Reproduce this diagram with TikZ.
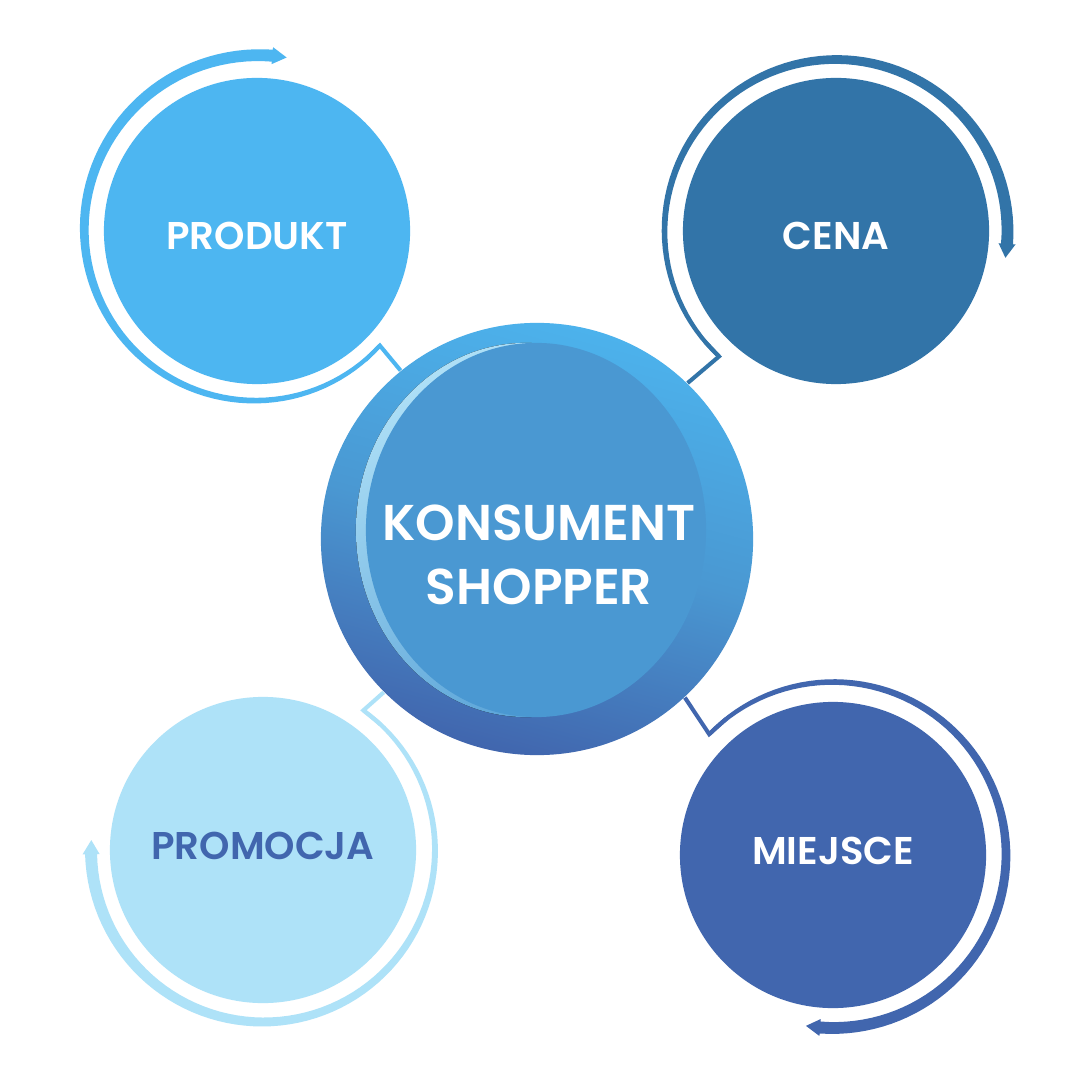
\documentclass[tikz,border=0pt]{standalone}
\usepackage{fontspec}
\setmainfont{Poppins}[BoldFont={Poppins SemiBold}]
\definecolor{produktblue}{HTML}{4DB6F1}
\definecolor{cenablue}{HTML}{3274A8}
\definecolor{miejsceblue}{HTML}{4166AE}
\definecolor{promocjablue}{HTML}{AEE2F8}
\definecolor{hubblue}{HTML}{4A98D2}
\definecolor{hublight}{HTML}{4CB2EC}
\definecolor{hubshine}{HTML}{B3E3F8}
\begin{document}
\begin{tikzpicture}
    [
    x=0.01cm,y=-0.01cm,
    sat/.style={circle,inner sep=0pt,minimum size=3.06cm,text=white,
      font=\fontsize{11}{13}\selectfont\bfseries,text height=0.37cm,text depth=0pt},
    satlow/.style={sat,text height=0.27cm,text depth=0.08cm},
    hub/.style={circle,inner sep=0pt,minimum size=4.32cm,
      top color=hublight,bottom color=miejsceblue,middle color=hubblue,shading angle=-15},
    hubtext/.style={text=white,align=center,font=\fontsize{14.3}{18.3}\selectfont\bfseries},
    link/.style={line width=1.15pt,line join=miter},
    ]
    \fill[white] (0,0) rectangle (1080,1080);
    % the four satellites
    \node (produkt) at (257,231) [sat,fill=produktblue] {PRODUKT};
    \node (cena) at (836,231) [sat,fill=cenablue] {CENA};
    \node (promocja) at (263,850) [satlow,fill=promocjablue,text=miejsceblue] {PROMOCJA};
    \node (miejsce) at (833,855) [satlow,fill=miejsceblue] {MIEJSCE};
    % the consumer in the middle
    \node (consumer) at (537,539) [hub,path picture={
        \fill[top color=hubshine,bottom color=hubblue,shading angle=30]
          ([xshift=-0.11cm,yshift=0.09cm]path picture bounding box.center) ellipse [x radius=1.7cm,y radius=1.87cm];
        \fill[hubblue]
          ([xshift=-0.01cm,yshift=0.09cm]path picture bounding box.center) ellipse [x radius=1.7cm,y radius=1.87cm];
      }] {};
    \node (consumer-text) at (539,555) [hubtext] {KONSUMENT\\SHOPPER};
    % rings round the satellites
    \fill[produktblue] plot[domain=-43:-275,samples=80] ({257+(170+12*(\x+43)/(-232))*cos(\x)},{231-(170+12*(\x+43)/(-232))*sin(\x)})
      -- ({257+184.5*cos(-275)},{231-184.5*sin(-275)})
      -- ({257+176*cos(-279.7)},{231-176*sin(-279.7)})
      -- ({257+167.5*cos(-275)},{231-167.5*sin(-275)})
      -- plot[domain=-275:-43,samples=80] ({257+(166+4*(\x+43)/(-232))*cos(\x)},{231-(166+4*(\x+43)/(-232))*sin(\x)})
      -- cycle;
    \fill[cenablue] plot[domain=227:-4.3,samples=80] ({836+(173.5+4*(\x-227)/(-231.3))*cos(\x)},{231-(173.5+4*(\x-227)/(-231.3))*sin(\x)})
      -- ({836+180*cos(-4.3)},{231-180*sin(-4.3)})
      -- ({836+171.5*cos(-9)},{231-171.5*sin(-9)})
      -- ({836+163*cos(-4.3)},{231-163*sin(-4.3)})
      -- plot[domain=-4.3:227,samples=80] ({836+(169.5-4*(\x-227)/(-231.3))*cos(\x)},{231-(169.5-4*(\x-227)/(-231.3))*sin(\x)})
      -- cycle;
    \fill[miejsceblue] plot[domain=135.7:-94.3,samples=80] ({833+(175+4*(\x-135.7)/(-230))*cos(\x)},{855-(175+4*(\x-135.7)/(-230))*sin(\x)})
      -- ({833+181.5*cos(-94.3)},{855-181.5*sin(-94.3)})
      -- ({833+173*cos(-99)},{855-173*sin(-99)})
      -- ({833+164.5*cos(-94.3)},{855-164.5*sin(-94.3)})
      -- plot[domain=-94.3:135.7,samples=80] ({833+(171-4*(\x-135.7)/(-230))*cos(\x)},{855-(171-4*(\x-135.7)/(-230))*sin(\x)})
      -- cycle;
    \fill[promocjablue] plot[domain=54.3:-178.6,samples=80] ({263+(174+4*(\x-54.3)/(-232.9))*cos(\x)},{850-(174+4*(\x-54.3)/(-232.9))*sin(\x)})
      -- ({263+180.5*cos(-178.6)},{850-180.5*sin(-178.6)})
      -- ({263+172*cos(-183.3)},{850-172*sin(-183.3)})
      -- ({263+163.5*cos(-178.6)},{850-163.5*sin(-178.6)})
      -- plot[domain=-178.6:54.3,samples=80] ({263+(170-4*(\x-54.3)/(-232.9))*cos(\x)},{850-(170-4*(\x-54.3)/(-232.9))*sin(\x)})
      -- cycle;
    % corners where the rings meet the links
    \coordinate (produkt-corner) at ({257+168*cos(-43)},{231-168*sin(-43)});
    \coordinate (produkt-ring) at ({257+168.5*cos(-50)},{231-168.5*sin(-50)});
    \coordinate (cena-corner) at ({836+171.5*cos(227)},{231-171.5*sin(227)});
    \coordinate (cena-ring) at ({836+171.5*cos(220)},{231-171.5*sin(220)});
    \coordinate (miejsce-corner) at ({833+173*cos(135.7)},{855-173*sin(135.7)});
    \coordinate (miejsce-ring) at ({833+173*cos(128)},{855-173*sin(128)});
    \coordinate (promocja-corner) at ({263+172*cos(54.3)},{850-172*sin(54.3)});
    \coordinate (promocja-ring) at ({263+172*cos(47)},{850-172*sin(47)});
    \draw[link,produktblue] (consumer.129.5) -- (produkt-corner) -- (produkt-ring);
    \draw[link,cenablue] (consumer.46.7) -- (cena-corner) -- (cena-ring);
    \draw[link,miejsceblue] (consumer.-47.4) -- (miejsce-corner) -- (miejsce-ring);
    \draw[link,promocjablue] (consumer.-135.7) -- (promocja-corner) -- (promocja-ring);
\end{tikzpicture}
\end{document}
